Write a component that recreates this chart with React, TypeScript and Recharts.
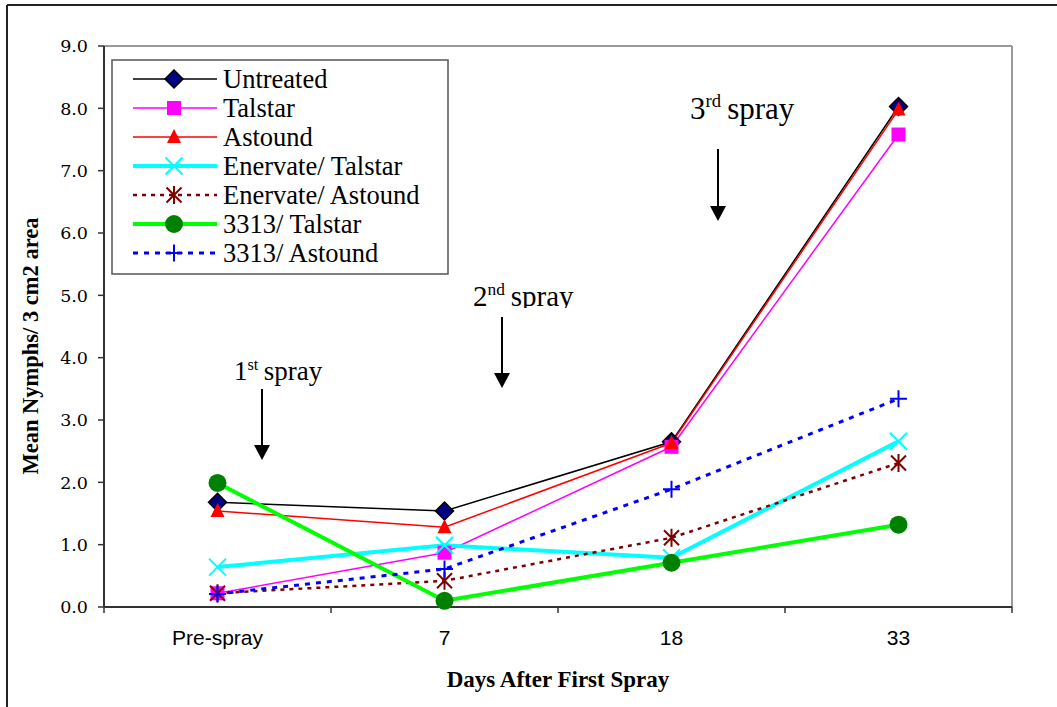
import React from "react";
import { LineChart, Line, XAxis, YAxis, ReferenceLine } from "recharts";

const categories = ["Pre-spray", "7", "18", "33"];
const yTicks = [0, 1, 2, 3, 4, 5, 6, 7, 8, 9];

const untreated = [1.68, 1.54, 2.65, 8.03];
const talstar = [0.22, 0.87, 2.57, 7.58];
const astound = [1.54, 1.28, 2.63, 7.98];
const enervateTalstar = [0.64, 0.99, 0.79, 2.66];
const enervateAstound = [0.22, 0.42, 1.11, 2.31];
const t3313Talstar = [1.99, 0.1, 0.71, 1.32];
const t3313Astound = [0.21, 0.61, 1.89, 3.34];

const seriesNames = [
  "Untreated",
  "Talstar",
  "Astound",
  "Enervate/ Talstar",
  "Enervate/ Astound",
  "3313/ Talstar",
  "3313/ Astound",
];

type Shape = "diamond" | "square" | "triangle" | "x" | "star" | "circle" | "plus";

const series: {
  key: string;
  name: string;
  values: number[];
  color: string;
  width: number;
  dash?: string;
  shape: Shape;
}[] = [
  { key: "s0", name: seriesNames[0], values: untreated, color: "#000000", width: 1.5, shape: "diamond" },
  { key: "s1", name: seriesNames[1], values: talstar, color: "#FF00FF", width: 1.5, shape: "square" },
  { key: "s2", name: seriesNames[2], values: astound, color: "#FF0000", width: 1.5, shape: "triangle" },
  { key: "s3", name: seriesNames[3], values: enervateTalstar, color: "#00FFFF", width: 4, shape: "x" },
  { key: "s4", name: seriesNames[4], values: enervateAstound, color: "#800000", width: 2.5, dash: "4 5", shape: "star" },
  { key: "s5", name: seriesNames[5], values: t3313Talstar, color: "#00FF00", width: 4, shape: "circle" },
  { key: "s6", name: seriesNames[6], values: t3313Astound, color: "#0000FF", width: 3, dash: "5 6", shape: "plus" },
];

const data = categories.map((c, i) => {
  const row: Record<string, number | string> = { x: i + 0.5, cat: c };
  series.forEach((s) => {
    row[s.key] = s.values[i];
  });
  return row;
});

function Marker({ shape, cx, cy }: { shape: Shape; cx: number; cy: number }) {
  switch (shape) {
    case "diamond":
      return (
        <polygon
          points={`${cx},${cy - 9} ${cx + 9},${cy} ${cx},${cy + 9} ${cx - 9},${cy}`}
          fill="#000080"
          stroke="#000000"
          strokeWidth={1.5}
        />
      );
    case "square":
      return <rect x={cx - 7} y={cy - 7} width={14} height={14} fill="#FF00FF" />;
    case "triangle":
      return <polygon points={`${cx},${cy - 8} ${cx + 7},${cy + 6} ${cx - 7},${cy + 6}`} fill="#FF0000" />;
    case "x":
      return (
        <path
          d={`M${cx - 8.5},${cy - 8.5}L${cx + 8.5},${cy + 8.5}M${cx - 8.5},${cy + 8.5}L${cx + 8.5},${cy - 8.5}`}
          stroke="#00FFFF"
          strokeWidth={2}
        />
      );
    case "star":
      return (
        <path
          d={`M${cx - 7.5},${cy - 7.5}L${cx + 7.5},${cy + 7.5}M${cx - 7.5},${cy + 7.5}L${cx + 7.5},${cy - 7.5}M${cx},${cy - 9}L${cx},${cy + 9}`}
          stroke="#800000"
          strokeWidth={2}
        />
      );
    case "circle":
      return <circle cx={cx} cy={cy} r={9} fill="#008000" />;
    case "plus":
      return (
        <path
          d={`M${cx - 8.5},${cy}L${cx + 8.5},${cy}M${cx},${cy - 8.5}L${cx},${cy + 8.5}`}
          stroke="#0000FF"
          strokeWidth={2}
        />
      );
  }
  return null;
}

const XTick = (props: any) => {
  const { x, y, payload } = props;
  const v = payload.value as number;
  if (Number.isInteger(v)) {
    return <line x1={x} x2={x} y1={y} y2={y + 6} stroke="#333" strokeWidth={1.5} />;
  }
  return (
    <text
      x={x}
      y={y + 38}
      textAnchor="middle"
      fontFamily="'Liberation Sans', Arial, sans-serif"
      fontSize={21}
      fill="#000"
    >
      {categories[Math.floor(v)]}
    </text>
  );
};

const xTicks = [0, 0.5, 1, 1.5, 2, 2.5, 3, 3.5, 4];

const serif = "'Liberation Serif', 'Times New Roman', serif";

function Spray({ x, y, n, sup, size, arrowTop, arrowBottom, ax, clip }: any) {
  return (
    <g>
      <text x={x} y={y} fontFamily={serif} fontSize={size} fill="#000" clipPath={clip}>
        {n}
        <tspan fontSize={size * 0.6} dy={-size * 0.38}>
          {sup}
        </tspan>
        <tspan fontSize={size} dy={size * 0.38} dx={size * 0.2}>
          spray
        </tspan>
      </text>
      <line x1={ax} x2={ax} y1={arrowTop} y2={arrowBottom - 12} stroke="#000" strokeWidth={2} />
      <polygon points={`${ax - 8},${arrowBottom - 15} ${ax + 8},${arrowBottom - 15} ${ax},${arrowBottom}`} fill="#000" />
    </g>
  );
}

export default function App() {
  return (
    <div style={{ position: "absolute", left: 0, top: 0, width: 1057, height: 707, background: "#fff" }}>
      <LineChart
        width={1057}
        height={707}
        data={data}
        margin={{ top: 46, right: 45, left: 44, bottom: 70 }}
      >
        <XAxis
          dataKey="x"
          type="number"
          domain={[0, 4]}
          ticks={xTicks}
          interval={0}
          tickLine={false}
          tickSize={0}
          tickMargin={0}
          tick={<XTick />}
          height={30}
          axisLine={{ stroke: "#333", strokeWidth: 2 }}
        />
        <YAxis
          type="number"
          domain={[0, 9]}
          ticks={yTicks}
          interval={0}
          width={60}
          tickSize={6}
          tickMargin={10}
          tickFormatter={(v: number) => v.toFixed(1)}
          tick={{ fontFamily: "'DejaVu Serif', serif", fontSize: 17.5, fill: "#000" }}
          tickLine={{ stroke: "#333", strokeWidth: 1.5 }}
          axisLine={{ stroke: "#333", strokeWidth: 2 }}
        />
        <ReferenceLine y={9} stroke="#999" strokeWidth={2} />
        <ReferenceLine x={4} stroke="#999" strokeWidth={2} />
        {series.map((s) => (
          <Line
            key={s.key}
            dataKey={s.key}
            name={s.name}
            stroke={s.color}
            strokeWidth={s.width}
            strokeDasharray={s.dash}
            isAnimationActive={false}
            dot={(p: any) => (
              <g key={`${s.key}-${p.index}`}>
                <Marker shape={s.shape} cx={p.cx} cy={p.cy} />
              </g>
            )}
            activeDot={false}
          />
        ))}
      </LineChart>
      <svg
        width={1057}
        height={707}
        style={{ position: "absolute", left: 0, top: 0, pointerEvents: "none" }}
      >
        <defs>
          <clipPath id="clip2nd">
            <rect x={440} y={260} width={160} height={48} />
          </clipPath>
        </defs>
        <line x1={7} y1={5} x2={1057} y2={5} stroke="#222" strokeWidth={2} />
        <line x1={7} y1={5} x2={7} y2={707} stroke="#222" strokeWidth={2} />
        <text
          transform="translate(38,346) rotate(-90)"
          textAnchor="middle"
          fontFamily={serif}
          fontWeight="bold"
          fontSize={22.5}
          fill="#000"
        >
          Mean Nymphs/ 3 cm2 area
        </text>
        <text
          x={558}
          y={687}
          textAnchor="middle"
          fontFamily={serif}
          fontWeight="bold"
          fontSize={23}
          fill="#000"
        >
          Days After First Spray
        </text>
        <Spray x={234} y={380} n="1" sup="st" size={27} ax={262} arrowTop={389} arrowBottom={460} />
        <Spray x={473} y={306} n="2" sup="nd" size={29} ax={502} arrowTop={317} arrowBottom={388} clip="url(#clip2nd)" />
        <Spray x={690} y={119} n="3" sup="rd" size={31} ax={718} arrowTop={149} arrowBottom={221} />
        <rect x={112} y={60} width={336} height={214} fill="#fff" stroke="#555" strokeWidth={1.5} />
        {series.map((s, i) => {
          const cy = 79 + i * 29;
          return (
            <g key={s.key}>
              <line x1={133} x2={217} y1={cy} y2={cy} stroke={s.color} strokeWidth={s.width} strokeDasharray={s.dash} />
              <Marker shape={s.shape} cx={174} cy={cy} />
              <text x={223} y={cy + 9} fontFamily={serif} fontSize={26.5} fill="#000">
                {s.name}
              </text>
            </g>
          );
        })}
      </svg>
    </div>
  );
}
